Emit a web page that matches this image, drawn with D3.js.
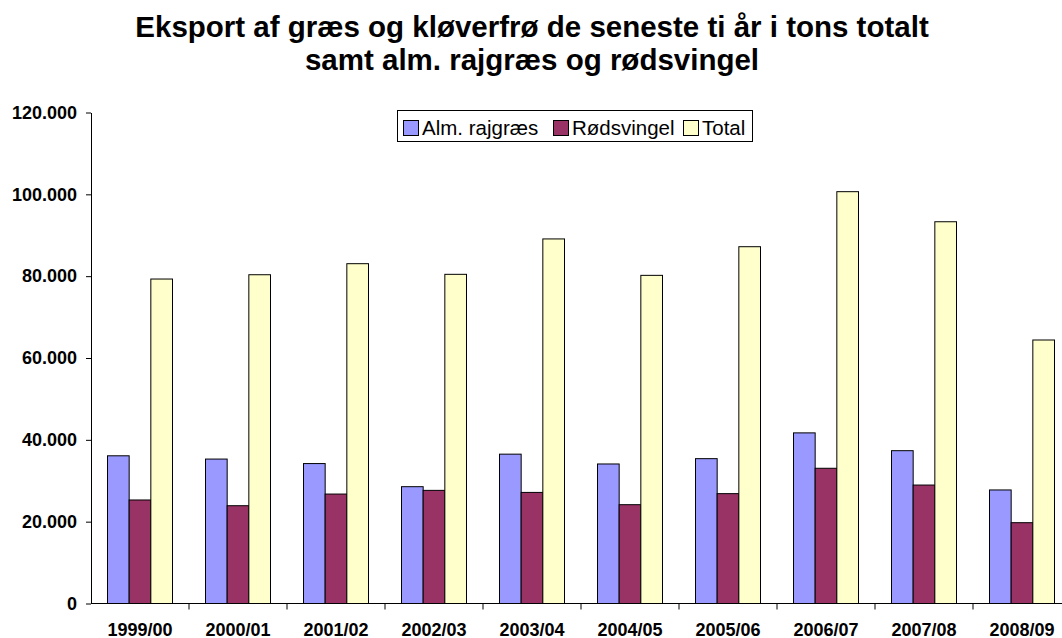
<!DOCTYPE html>
<html>
<head>
<meta charset="utf-8">
<script src="https://cdn.jsdelivr.net/npm/d3@7"></script>
<style>
  body { margin: 0; background: #fff; overflow: hidden; }
  svg { display: block; font-family: "Liberation Sans", Arial, sans-serif; }
</style>
</head>
<body>
<svg id="chart"></svg>
<script>
// Export of grass and clover seed, tons
var years = ['1999/00', '2000/01', '2001/02', '2002/03', '2003/04',
             '2004/05', '2005/06', '2006/07', '2007/08', '2008/09'];
var seriesNames = ['Alm. rajgræs', 'Rødsvingel', 'Total'];
var rajgraes = [36100, 35300, 34200, 28550, 36500, 34100, 35400, 41700, 37350, 27750];
var roedsvingel = [25300, 23900, 26750, 27650, 27150, 24150, 26850, 33050, 28950, 19750];
var total = [79300, 80350, 83050, 80450, 89100, 80200, 87200, 100650, 93300, 64400];
var yTicks = [0, 20000, 40000, 60000, 80000, 100000, 120000];
var titleLines = ['Eksport af græs og kløverfrø de seneste ti år i tons totalt',
                  'samt alm. rajgræs og rødsvingel'];

var colors = ['#9999ff', '#993366', '#ffffcc'];

var width = 1062,
    height = 638,
    // plot area; last category runs past the right edge like the original
    plotLeft = 91,
    plotTop = 112.5,
    plotBottom = 603.5,
    catWidth = 98;

var svg = d3.select('#chart')
  .attr('width', width)
  .attr('height', height);

var rows = years.map(function (y, i) {
  return { year: y, values: [rajgraes[i], roedsvingel[i], total[i]] };
});

var x0 = d3.scaleBand()
  .domain(years)
  .range([plotLeft, plotLeft + catWidth * years.length])
  .paddingInner(0)
  .paddingOuter(0);

var x1 = d3.scaleBand()
  .domain([0, 1, 2])
  .range([16.5, catWidth - 16.5]);

var y = d3.scaleLinear()
  .domain([0, 120000])
  .range([plotBottom, plotTop]);

var locale = d3.formatLocale({ decimal: ',', thousands: '.', grouping: [3], currency: ['', ''] });
var fmt = locale.format(',d');

// title
svg.append('g').selectAll('text')
  .data(titleLines)
  .enter().append('text')
    .attr('x', 532)
    .attr('y', function (d, i) { return 37 + i * 33; })
    .attr('text-anchor', 'middle')
    .style('font-size', '29.5px')
    .style('font-weight', 'bold')
    .text(function (d) { return d; });

// bars
var groups = svg.append('g').selectAll('g')
  .data(rows)
  .enter().append('g')
    .attr('transform', function (d) { return 'translate(' + x0(d.year) + ',0)'; });

groups.selectAll('rect')
  .data(function (d) { return d.values; })
  .enter().append('rect')
    .attr('x', function (d, i) { return x1(i); })
    .attr('y', function (d) { return y(d); })
    .attr('width', x1.bandwidth())
    .attr('height', function (d) { return y(0) - y(d); })
    .attr('fill', function (d, i) { return colors[i]; })
    .attr('stroke', '#000')
    .attr('stroke-width', 1);

// y axis
var yAxis = svg.append('g')
  .attr('transform', 'translate(' + plotLeft + ',0)')
  .call(d3.axisLeft(y).tickValues(yTicks).tickFormat(fmt).tickSize(5).tickSizeOuter(0).tickPadding(9));

yAxis.selectAll('text')
  .style('font-size', '18px')
  .style('font-weight', 'bold')
  .style('font-family', '"Liberation Sans", Arial, sans-serif')
  .attr('fill', '#000');
yAxis.selectAll('line, path').attr('stroke', '#000');

// x axis, ticks on category boundaries
var xAxis = svg.append('g')
  .attr('transform', 'translate(0,' + plotBottom + ')');
xAxis.append('line')
  .attr('x1', plotLeft).attr('x2', x0.range()[1])
  .attr('stroke', '#000');
xAxis.selectAll('line.tick')
  .data(years)
  .enter().append('line')
    .attr('class', 'tick')
    .attr('x1', function (d) { return x0(d) + catWidth; })
    .attr('x2', function (d) { return x0(d) + catWidth; })
    .attr('y1', 0).attr('y2', 6)
    .attr('stroke', '#000');
xAxis.selectAll('text')
  .data(years)
  .enter().append('text')
    .attr('x', function (d) { return x0(d) + x0.bandwidth() / 2; })
    .attr('y', 32)
    .attr('text-anchor', 'middle')
    .style('font-size', '18px')
    .style('font-weight', 'bold')
    .text(function (d) { return d; });

// legend
var legend = svg.append('g').attr('transform', 'translate(397,110)');
legend.append('rect')
  .attr('x', 0.5).attr('y', 0.5)
  .attr('width', 355).attr('height', 31)
  .attr('fill', '#fff').attr('stroke', '#000');

var legendX = [6, 156, 286];
var items = legend.selectAll('g.item')
  .data(seriesNames)
  .enter().append('g')
    .attr('class', 'item')
    .attr('transform', function (d, i) { return 'translate(' + legendX[i] + ',0)'; });
items.append('rect')
  .attr('x', 0.5).attr('y', 10.5)
  .attr('width', 15).attr('height', 15)
  .attr('fill', function (d, i) { return colors[i]; })
  .attr('stroke', '#000');
items.append('text')
  .attr('x', 19).attr('y', 25)
  .style('font-size', '20.5px')
  .text(function (d) { return d; });
</script>
</body>
</html>
